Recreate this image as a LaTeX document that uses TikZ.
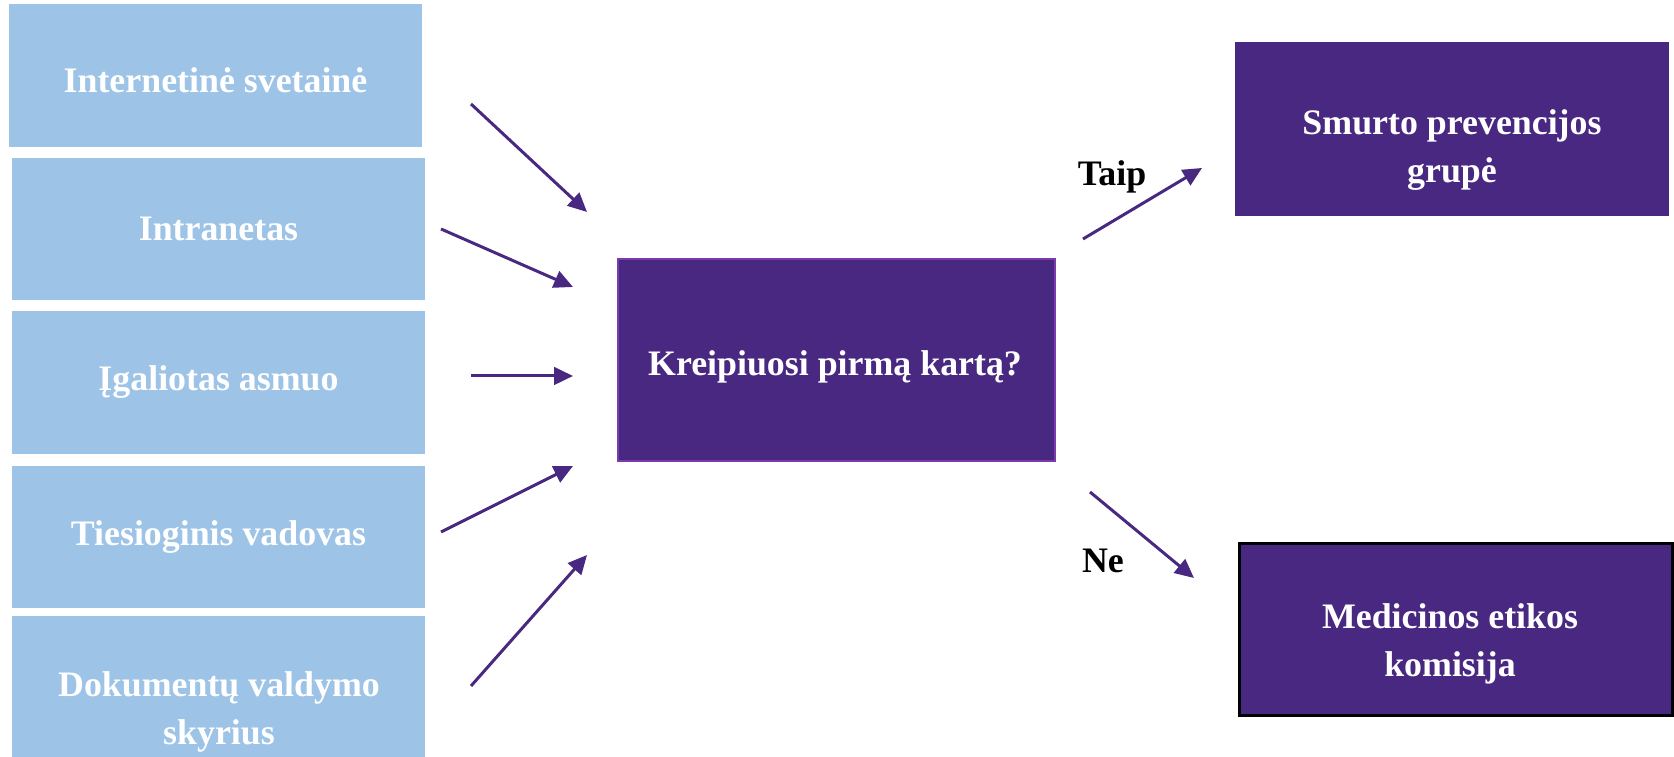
\documentclass[tikz,border=0pt]{standalone}
\usepackage{fontspec}
\setmainfont{Liberation Serif}
\usepackage{tikz}
\usetikzlibrary{arrows.meta}
\definecolor{lightblue}{RGB}{157,195,230}
\definecolor{darkpurple}{RGB}{72,40,128}
\definecolor{borderpurple}{RGB}{122,58,176}

\begin{document}
\begin{tikzpicture}[
        every node/.style={font=\fontsize{10.2}{13.6}\selectfont\bfseries, align=center},
        srcbox/.style={fill=lightblue, text=white, minimum width=4.13cm, minimum height=1.42cm, inner sep=0pt},
        purplebox/.style={fill=darkpurple, text=white, inner sep=0pt},
        flow/.style={-{Triangle[length=5.4pt,width=5pt]}, line width=0.85pt, draw=darkpurple}
    ]
            \useasboundingbox (0,0) rectangle (16.74,7.57);
            % sources
            \node[srcbox, minimum height=1.43cm] (W) at (2.155,6.815) {};
            \node[text=white] (Wt) at (2.155,6.77) {Internetinė svetainė};
            \node[srcbox] (I) at (2.185,5.28) {Intranetas};
            \node[srcbox, minimum height=1.43cm] (G) at (2.185,3.745) {Įgaliotas asmuo};
            \node[srcbox] (T) at (2.185,2.20) {Tiesioginis vadovas};
            \node[srcbox] (D) at (2.185,0.70) {};
            \node[text=white] (Dt) at (2.19,0.45) {Dokumentų valdymo\\skyrius};
            % question
            \node[purplebox, draw=borderpurple, line width=0.6pt, minimum width=4.37cm, minimum height=2.02cm] (K) at (8.365,3.97) {};
            \node[text=white] (Kt) at (8.35,3.90) {Kreipiuosi pirmą kartą?};
            % answers
            \node[purplebox, minimum width=4.34cm, minimum height=1.74cm] (S) at (14.52,6.28) {};
            \node[text=white] (St) at (14.52,6.07) {Smurto prevencijos\\grupė};
            \node[purplebox, draw=black, line width=0.85pt, minimum width=4.33cm, minimum height=1.72cm] (M) at (14.56,1.275) {};
            \node[text=white] (Mt) at (14.50,1.13) {Medicinos etikos\\komisija};
            \node (Y) at (11.12,5.80) {Taip};
            \node (N) at (11.03,1.96) {Ne};
            % arrow ends
            \coordinate (W1) at (4.71,6.53);
            \coordinate (W2) at (5.87,5.45);
            \coordinate (I1) at (4.41,5.28);
            \coordinate (I2) at (5.73,4.70);
            \coordinate (G1) at (4.71,3.81);
            \coordinate (G2) at (5.73,3.81);
            \coordinate (T1) at (4.41,2.25);
            \coordinate (T2) at (5.73,2.91);
            \coordinate (D1) at (4.71,0.71);
            \coordinate (D2) at (5.87,2.02);
            \coordinate (Y1) at (10.83,5.18);
            \coordinate (Y2) at (12.02,5.89);
            \coordinate (N1) at (10.90,2.65);
            \coordinate (N2) at (11.94,1.79);
            \foreach \s in {W,I,G,T,D,Y,N} {
                \draw[flow] (\s1) -- (\s2);
            }
        \end{tikzpicture}
\end{document}
